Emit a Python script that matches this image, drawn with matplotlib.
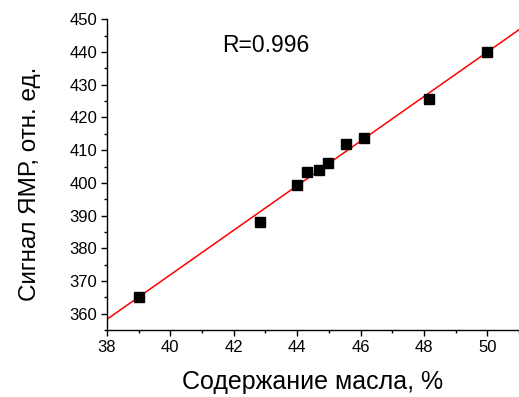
import numpy as np
import matplotlib
matplotlib.use('Agg')
import matplotlib.pyplot as plt
from matplotlib.ticker import MultipleLocator

# oil content (%) vs NMR signal (rel. units)
oil_pct = [39.0, 42.83, 44.0, 44.3, 44.69, 44.99, 45.55, 46.1, 48.16, 50.0]
nmr_signal = [365.2, 388.0, 399.4, 403.2, 403.9, 406.0, 411.8, 413.6, 425.8, 440.0]
r_text = 'R=0.996'

plt.rcParams.update({'font.family': ['Liberation Sans', 'DejaVu Sans']})

fig = plt.figure(figsize=(5.19, 3.97), dpi=100)
ax = fig.add_axes([0.206, 0.169, 0.794, 0.782])

x = np.array(oil_pct)
y = np.array(nmr_signal)
# linear fit drawn across the full x range
k, b = np.polyfit(x, y, 1)
xl = np.array([38, 51])
ax.plot(xl, k * xl + b, color='red', linewidth=1.1, zorder=2)
ax.plot(x, y, 's', color='black', markersize=6.5, zorder=3)

ax.set_xlim(38, 51)
ax.set_ylim(355, 450)
ax.xaxis.set_major_locator(MultipleLocator(2))
ax.xaxis.set_minor_locator(MultipleLocator(1))
ax.set_yticks(range(360, 451, 10))
ax.yaxis.set_minor_locator(MultipleLocator(5))

for s in ('top', 'right'):
    ax.spines[s].set_visible(False)
for s in ('left', 'bottom'):
    ax.spines[s].set_linewidth(1.0)
ax.tick_params(which='major', direction='out', length=4, width=1.0,
               labelsize=12, pad=3)
ax.tick_params(which='minor', direction='out', length=2.2, width=1.0)

ax.set_xlabel('Содержание масла, %', fontsize=18, labelpad=11)
ax.set_ylabel('Сигнал ЯМР, отн. ед.', fontsize=17.5)
ax.yaxis.set_label_coords(-0.16, 0.47)
ax.text(41.62, 442, r_text, fontsize=16.5, va='center', ha='left')

fig.savefig('out.png', dpi=100, facecolor='white')
